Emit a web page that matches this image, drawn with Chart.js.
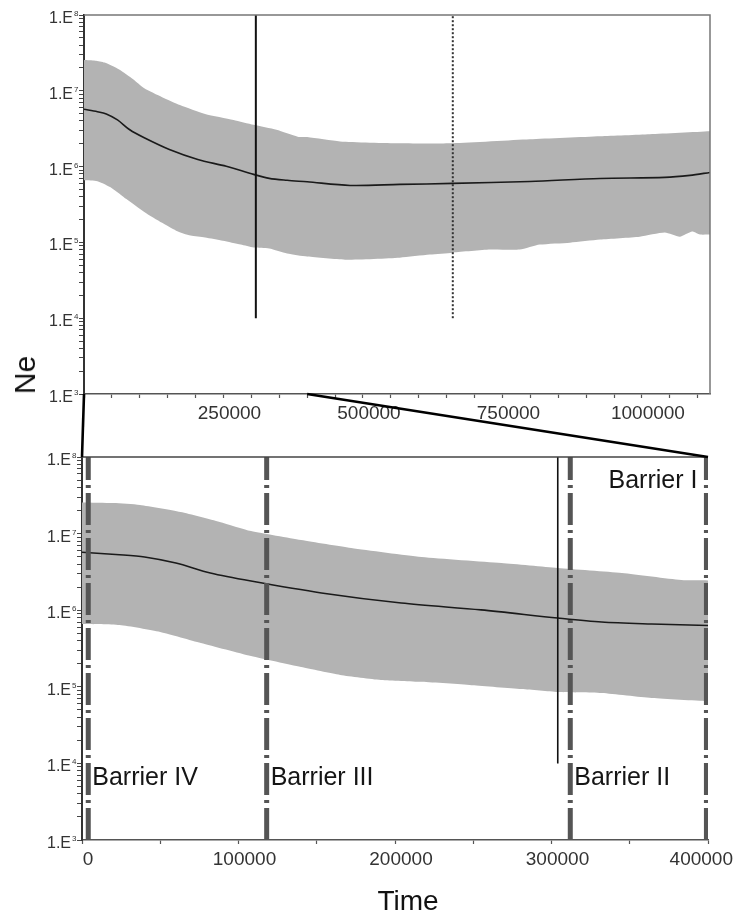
<!DOCTYPE html>
<html><head><meta charset="utf-8">
<script src="https://cdn.jsdelivr.net/npm/chart.js@4/dist/chart.umd.min.js"></script>
<style>
html,body{margin:0;padding:0;background:#fff;width:737px;height:916px;overflow:hidden}
#wrap{position:relative;width:737px;height:916px}
canvas{position:absolute;left:0;top:0}
.lab{position:absolute;font-family:"Liberation Sans",Arial,sans-serif;color:#111;white-space:nowrap}
#ne{left:25px;top:375px;font-size:30px;line-height:30px;transform:translate(-50%,-50%) rotate(-90deg)}
#time{left:408px;top:901px;font-size:28px;line-height:28px;transform:translate(-50%,-50%)}
</style></head><body>
<div id="wrap">
<canvas id="topc" width="737" height="916"></canvas>
<canvas id="botc" width="737" height="916"></canvas>
<div class="lab" id="ne">Ne</div>
<div class="lab" id="time">Time</div>
</div>
<script>
// ---- data ----
const medianTime = [0, 24000, 40000, 60000, 82000, 108000, 153000, 204000, 255000, 304000, 332000, 364000, 400000, 477000, 566000, 661000, 799000, 925000, 1041000, 1086000, 1122000];
const medianNe   = [5.7e6, 5.3e6, 4.95e6, 4.13e6, 3.06e6, 2.4e6, 1.68e6, 1.24e6, 1.01e6, 7.9e5, 7.0e5, 6.6e5, 6.3e5, 5.64e5, 5.82e5, 6.0e5, 6.37e5, 6.98e5, 7.2e5, 7.66e5, 8.38e5];
const upperTime  = [0, 20000, 37000, 63000, 88000, 108000, 140000, 172000, 217000, 268000, 304000, 345000, 383000, 400000, 459000, 566000, 661000, 799000, 925000, 1014000, 1122000];
const upperNe    = [2.55e7, 2.5e7, 2.36e7, 1.91e7, 1.42e7, 1.08e7, 8.24e6, 6.49e6, 4.95e6, 4.13e6, 3.56e6, 3.06e6, 2.48e6, 2.45e6, 2.15e6, 2.03e6, 2.03e6, 2.29e6, 2.51e6, 2.67e6, 2.92e6];
const lowerTime  = [0, 24000, 50000, 76000, 108000, 140000, 165000, 191000, 217000, 249000, 281000, 304000, 332000, 364000, 400000, 468000, 566000, 620000, 661000, 728000, 781000, 817000, 871000, 925000, 996000, 1041000, 1068000, 1090000, 1104000, 1122000];
const lowerNe    = [6.6e5, 6.4e5, 5.2e5, 3.73e5, 2.52e5, 1.81e5, 1.43e5, 1.23e5, 1.16e5, 1.05e5, 9.35e4, 8.55e4, 8.3e4, 7.14e4, 6.5e4, 5.92e4, 6.29e4, 6.9e4, 7.33e4, 8.03e4, 8.03e4, 9.35e4, 9.93e4, 1.09e5, 1.19e5, 1.35e5, 1.19e5, 1.39e5, 1.27e5, 1.27e5];

const topEventTime    = [308000, 661000];   // solid, dotted
const bottomEventTime = [304000];           // solid
const eventNeRange    = [1e4, 1e8];

const barrierNames = ['Barrier IV', 'Barrier III', 'Barrier II', 'Barrier I'];
const barrierTime  = [4000, 118000, 312000, 399000];

const topXLabels    = [250000, 500000, 750000, 1000000];
const bottomXLabels = [0, 100000, 200000, 300000, 400000];
const yDecades      = [3, 4, 5, 6, 7, 8];

const topRange    = [0, 1122000];
const bottomRange = [0, 400000];
const neRange     = [1e3, 1e8];

// ---- helpers ----
const FONT = '"Liberation Sans", Arial, sans-serif';
const pts = (xs, ys) => xs.map((x, i) => ({x, y: ys[i]}));
const vline = (t, r) => [{x: t, y: r[0]}, {x: t, y: r[1]}];

const yTicks = [];
yDecades.forEach(d => {
  if (d === yDecades[yDecades.length - 1]) { yTicks.push(Math.pow(10, d)); return; }
  for (let k = 1; k <= 9; k++) yTicks.push(k * Math.pow(10, d));
});
function xTicks(range, step) { const a = []; for (let v = range[0]; v <= range[1] + 1; v += step) a.push(v); return a; }

function bandDatasets() {
  return [
    {data: pts(upperTime, upperNe), borderWidth: 0, pointRadius: 0, fill: '+1', backgroundColor: '#b3b3b3', order: 5, tension: 0.2},
    {data: pts(lowerTime, lowerNe), borderWidth: 0, pointRadius: 0, fill: false, order: 5, tension: 0.2},
    {data: pts(medianTime, medianNe), borderWidth: 1.6, borderColor: '#1a1a1a', pointRadius: 0, fill: false, order: 3, tension: 0.3}
  ];
}

function drawYLabels(chart) {
  const s = chart.scales.y, ctx = chart.ctx;
  ctx.save();
  ctx.fillStyle = '#333';
  yDecades.forEach(d => {
    const y = s.getPixelForValue(Math.pow(10, d));
    ctx.font = '16px ' + FONT;
    ctx.textAlign = 'right'; ctx.textBaseline = 'alphabetic';
    ctx.fillText('1.E', s.right - 11, y + 8);
    ctx.font = '8px ' + FONT;
    ctx.textAlign = 'left';
    ctx.fillText(String(d), s.right - 10, y + 1);
  });
  ctx.restore();
}
function drawXLabels(chart, labels) {
  const s = chart.scales.x, ctx = chart.ctx;
  ctx.save();
  ctx.fillStyle = '#333';
  ctx.font = '19px ' + FONT;
  ctx.textAlign = 'center'; ctx.textBaseline = 'alphabetic';
  labels.forEach(v => {
    const t = String(v), w = ctx.measureText(t).width;
    let x = s.getPixelForValue(v) + 6;
    x = Math.min(x, chart.width - w / 2 - 4);
    ctx.fillText(t, x, chart.chartArea.bottom + 25);
  });
  ctx.restore();
}
function drawBox(chart, color, right) {
  const a = chart.chartArea, ctx = chart.ctx;
  ctx.save();
  ctx.strokeStyle = color; ctx.lineWidth = 1.5;
  ctx.beginPath();
  ctx.moveTo(a.left, a.top); ctx.lineTo(a.right, a.top);
  if (right) ctx.lineTo(a.right, a.bottom);
  ctx.stroke();
  ctx.restore();
}

function scalesCfg(xr, yWidth, xLabTicks) {
  return {
    x: {type: 'linear', min: xr[0], max: xr[1],
        afterBuildTicks: s => { s.ticks = xLabTicks.map(v => ({value: v})); },
        afterFit: s => { s.height = 40; s.paddingLeft = 0; s.paddingRight = 0; },
        ticks: {display: false},
        grid: {drawOnChartArea: false, drawTicks: true, tickLength: 4, tickColor: '#555', tickWidth: 1.2},
        border: {display: true, color: '#555', width: 1.6}},
    y: {type: 'logarithmic', min: neRange[0], max: neRange[1],
        afterBuildTicks: s => { s.ticks = yTicks.map(v => ({value: v})); },
        afterFit: s => { s.width = yWidth; s.paddingTop = 0; s.paddingBottom = 0; },
        ticks: {display: false},
        grid: {drawOnChartArea: false, drawTicks: true, tickLength: 5, tickColor: '#444', tickWidth: 1},
        border: {display: true, color: '#333', width: 2}}
  };
}

const common = {
  responsive: false, animation: false, devicePixelRatio: 1, events: [],
  plugins: {legend: {display: false}, tooltip: {enabled: false}}
};

// ---- top panel ----
const topDatasets = bandDatasets().concat([
  {data: vline(topEventTime[0], eventNeRange), borderColor: '#111', borderWidth: 2, pointRadius: 0, order: 1},
  {data: vline(topEventTime[1], eventNeRange), borderColor: '#333', borderWidth: 2, borderDash: [2, 2], pointRadius: 0, order: 1}
]);
const topChart = new Chart(document.getElementById('topc'), {
  type: 'line',
  data: {datasets: topDatasets},
  options: Object.assign({}, common, {
    layout: {padding: {left: 0, top: 15, right: 27, bottom: 482}},
    scales: scalesCfg(topRange, 84, xTicks(topRange, 50000))
  }),
  plugins: [{id: 'topdeco', afterDraw(chart) {
    drawBox(chart, '#777', true);
    drawYLabels(chart);
    drawXLabels(chart, topXLabels);
  }}]
});

// ---- bottom panel ----
const barrierDatasets = barrierTime.map(t => ({
  data: vline(t, neRange), borderColor: '#555', borderWidth: 5, borderDash: [32, 5, 3, 5], pointRadius: 0, order: 1
}));
const botDatasets = bandDatasets().concat([
  {data: vline(bottomEventTime[0], eventNeRange), borderColor: '#111', borderWidth: 1.6, pointRadius: 0, order: 2}
]).concat(barrierDatasets);

new Chart(document.getElementById('botc'), {
  type: 'line',
  data: {datasets: botDatasets},
  options: Object.assign({}, common, {
    layout: {padding: {left: 0, top: 457, right: 29, bottom: 36}},
    scales: scalesCfg(bottomRange, 82, xTicks(bottomRange, 50000))
  }),
  plugins: [{id: 'botdeco', afterDraw(chart) {
    const ctx = chart.ctx, xs = chart.scales.x, ys = chart.scales.y;
    drawBox(chart, '#444', false);
    drawYLabels(chart);
    drawXLabels(chart, bottomXLabels);
    // barrier labels
    ctx.save();
    ctx.font = '25px ' + FONT;
    ctx.fillStyle = '#151515';
    ctx.textBaseline = 'middle';
    barrierNames.forEach((name, i) => {
      const px = xs.getPixelForValue(barrierTime[i]);
      if (i === barrierNames.length - 1) {
        ctx.textAlign = 'right';
        ctx.fillText(name, px - 9, ys.getPixelForValue(Math.pow(10, 7.68)));
      } else {
        ctx.textAlign = 'left';
        ctx.fillText(name, px + 4, ys.getPixelForValue(Math.pow(10, 3.81)));
      }
    });
    ctx.restore();
    // zoom connector lines from top panel to bottom panel
    const tx = topChart.scales.x, ty = topChart.scales.y;
    ctx.save();
    ctx.strokeStyle = '#000'; ctx.lineWidth = 2.6;
    [bottomRange[0], bottomRange[1]].forEach(v => {
      ctx.beginPath();
      ctx.moveTo(tx.getPixelForValue(v), ty.getPixelForValue(neRange[0]));
      ctx.lineTo(xs.getPixelForValue(v), ys.getPixelForValue(neRange[1]));
      ctx.stroke();
    });
    ctx.restore();
  }}]
});
</script>
</body></html>
